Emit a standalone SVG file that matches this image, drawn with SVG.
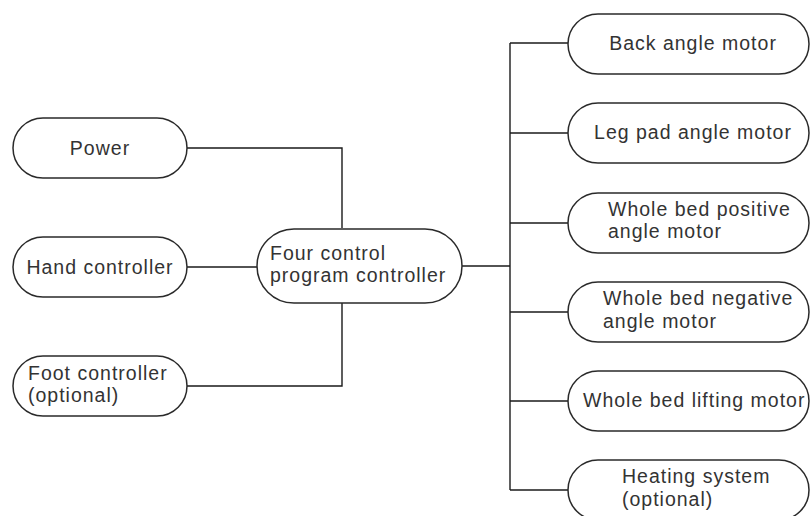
<svg xmlns="http://www.w3.org/2000/svg" width="811" height="516" viewBox="0 0 811 516">
<style>
.n{fill:#fff;stroke:#2a2a2a;stroke-width:1.5}
.t{font-family:"Liberation Sans",Arial,sans-serif;font-size:19.5px;letter-spacing:1px;fill:#333}
.m{text-anchor:middle}
.c{fill:none;stroke:#1a1a1a;stroke-width:1.4}
</style>
<rect width="811" height="516" fill="#fff"/>
<g id="connectors" class="c">
<polyline points="187,148 342,148 342,228"/>
<line x1="187" y1="267" x2="257" y2="267"/>
<polyline points="187,386 342,386 342,303"/>
<line x1="462" y1="266" x2="510" y2="266"/>
<line x1="510" y1="43" x2="510" y2="490"/>
<line x1="510" y1="43" x2="568" y2="43"/>
<line x1="510" y1="133" x2="568" y2="133"/>
<line x1="510" y1="223" x2="568" y2="223"/>
<line x1="510" y1="312" x2="568" y2="312"/>
<line x1="510" y1="401" x2="568" y2="401"/>
<line x1="510" y1="490" x2="568" y2="490"/>
</g>
<g id="power"><rect class="n" x="13" y="118" width="174" height="60" rx="30"/><text class="t m" x="100" y="155">Power</text></g>
<g id="hand"><rect class="n" x="13" y="237" width="174" height="60" rx="30"/><text class="t m" x="100" y="274">Hand controller</text></g>
<g id="foot"><rect class="n" x="13" y="356" width="174" height="60" rx="30"/><text class="t" x="28" y="380">Foot controller</text><text class="t" x="28" y="402">(optional)</text></g>
<g id="center"><rect class="n" x="257" y="229" width="205" height="74" rx="37"/><text class="t" x="270" y="260">Four control</text><text class="t" x="270" y="282">program controller</text></g>
<g id="back"><rect class="n" x="568" y="14" width="241" height="60" rx="30"/><text class="t m" x="693" y="50">Back angle motor</text></g>
<g id="leg"><rect class="n" x="568" y="103" width="241" height="60" rx="30"/><text class="t m" x="693" y="139">Leg pad angle motor</text></g>
<g id="positive"><rect class="n" x="568" y="193" width="241" height="60" rx="30"/><text class="t" x="608" y="216">Whole bed positive</text><text class="t" x="608" y="238">angle motor</text></g>
<g id="negative"><rect class="n" x="568" y="282" width="241" height="60" rx="30"/><text class="t" x="603" y="305">Whole bed negative</text><text class="t" x="603" y="328">angle motor</text></g>
<g id="lifting"><rect class="n" x="568" y="371" width="241" height="60" rx="30"/><text class="t" x="583" y="407">Whole bed lifting motor</text></g>
<g id="heating"><rect class="n" x="568" y="460" width="241" height="60" rx="30"/><text class="t" x="622" y="483">Heating system</text><text class="t" x="622" y="506">(optional)</text></g>
</svg>
